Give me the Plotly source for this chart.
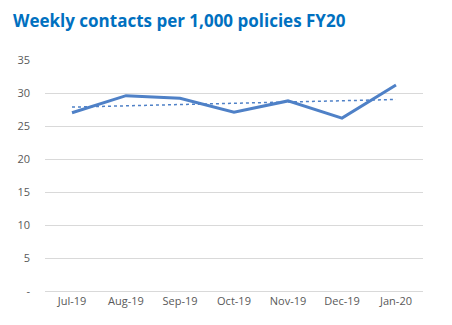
import plotly.graph_objects as go
import numpy as np

months = ["Jul-19", "Aug-19", "Sep-19", "Oct-19", "Nov-19", "Dec-19", "Jan-20"]
contacts = [27.0, 29.6, 29.2, 27.1, 28.8, 26.2, 31.2]
y_ticks = [0, 5, 10, 15, 20, 25, 30, 35]
y_tick_labels = ["-", "5", "10", "15", "20", "25", "30", "35"]

xi = np.arange(len(months))
slope, intercept = np.polyfit(xi, contacts, 1)
trend = list(intercept + slope * xi)

fig = go.Figure()
fig.add_trace(go.Scatter(x=months, y=contacts, mode="lines",
                         line=dict(color="#4F81C7", width=3), showlegend=False))
fig.add_trace(go.Scatter(x=months, y=trend, mode="lines",
                         line=dict(color="#4F81C7", width=1.5, dash="dot"), showlegend=False))

fig.update_layout(
    width=452, height=325,
    margin=dict(l=45, r=29, t=60, b=34),
    plot_bgcolor="white", paper_bgcolor="white",
    title=dict(text="<b>Weekly contacts per 1,000 policies FY20</b>",
               font=dict(family="Open Sans", size=17, color="#0070C0"),
               x=13 / 452, xref="container", xanchor="left", y=0.955, yanchor="top"),
    font=dict(family="Open Sans", size=11, color="#595959"),
)
fig.update_xaxes(type="category", range=[-0.5, 6.5], showgrid=False,
                 showline=True, linecolor="#D9D9D9", linewidth=1, ticks="",
                 tickfont=dict(size=11, color="#595959"))
fig.update_yaxes(range=[0, 35], tickvals=y_ticks, ticktext=y_tick_labels,
                 showgrid=True, gridcolor="#D9D9D9", gridwidth=1, zeroline=False,
                 showline=False, ticks="", ticklabelstandoff=14,
                 tickfont=dict(size=11, color="#595959"))

fig.write_html("out.html")
